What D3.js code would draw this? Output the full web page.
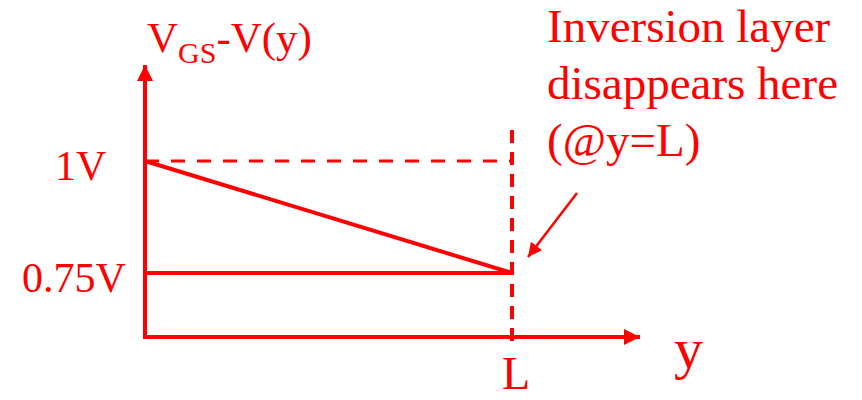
<!DOCTYPE html>
<html>
<head>
<meta charset="utf-8">
<script src="https://cdn.jsdelivr.net/npm/d3@7"></script>
<style>
  html, body { margin: 0; padding: 0; background: #fff; }
  svg text { font-family: "Liberation Serif", "Times New Roman", serif; fill: #ff0000; }
</style>
</head>
<body>
<div id="chart"></div>
<script>
// values
const levels = [1, 0.75];                 // VGS - V(y) at y = 0 and y = L
const levelLabels = ["1V", "0.75V"];
const yPositions = [0, 1];                // y / L
const noteLines = ["Inversion layer", "disappears here", "(@y=L)"];

const width = 862, height = 400;
const red = "#ff0000";

const svg = d3.select("#chart").append("svg")
  .attr("width", width)
  .attr("height", height);

const x = d3.scaleLinear().domain([0, 1]).range([145, 512]);
const y = d3.scaleLinear().domain([0.75, 1]).range([273, 161]);

const axisY = 337;   // where the horizontal axis sits

// arrowheads
const defs = svg.append("defs");
defs.append("marker")
  .attr("id", "arrow")
  .attr("viewBox", "0 0 10 10")
  .attr("refX", 10).attr("refY", 5)
  .attr("markerUnits", "userSpaceOnUse")
  .attr("markerWidth", 17).attr("markerHeight", 16)
  .attr("orient", "auto")
  .append("path")
  .attr("d", "M0,0L10,5L0,10Z")
  .attr("fill", red);
defs.append("marker")
  .attr("id", "arrowSmall")
  .attr("viewBox", "0 0 10 10")
  .attr("refX", 10).attr("refY", 5)
  .attr("markerUnits", "userSpaceOnUse")
  .attr("markerWidth", 18).attr("markerHeight", 14)
  .attr("orient", "auto")
  .append("path")
  .attr("d", "M0,0L10,5L0,10Z")
  .attr("fill", red);

// axes
svg.append("line")
  .attr("x1", x(0)).attr("y1", axisY + 2)
  .attr("x2", x(0)).attr("y2", 65)
  .attr("stroke", red).attr("stroke-width", 4)
  .attr("marker-end", "url(#arrow)");
svg.append("line")
  .attr("x1", x(0) - 2).attr("y1", axisY)
  .attr("x2", 640).attr("y2", axisY)
  .attr("stroke", red).attr("stroke-width", 4)
  .attr("marker-end", "url(#arrow)");

// dashed guides
svg.append("line")
  .attr("x1", x(0)).attr("y1", y(levels[0]))
  .attr("x2", x(1)).attr("y2", y(levels[0]))
  .attr("stroke", red).attr("stroke-width", 3)
  .attr("stroke-dasharray", "14,12");
svg.append("line")
  .attr("x1", x(1)).attr("y1", 130)
  .attr("x2", x(1)).attr("y2", 343)
  .attr("stroke", red).attr("stroke-width", 4)
  .attr("stroke-dasharray", "13,9");

// the potential line
const line = d3.line().x((d, i) => x(yPositions[i])).y(d => y(d));
svg.append("path")
  .datum(levels)
  .attr("d", line)
  .attr("fill", "none")
  .attr("stroke", red).attr("stroke-width", 4);

// 0.75V level
svg.append("line")
  .attr("x1", x(0)).attr("y1", y(levels[1]))
  .attr("x2", x(1)).attr("y2", y(levels[1]))
  .attr("stroke", red).attr("stroke-width", 4);

// tick labels
const labelX = [55, 22];
svg.selectAll(".lvl")
  .data(levels)
  .join("text")
  .attr("class", "lvl")
  .attr("x", (d, i) => labelX[i])
  .attr("y", d => y(d) + 19)
  .attr("font-size", 42)
  .text((d, i) => levelLabels[i]);

// axis titles
const title = svg.append("text")
  .attr("x", 147).attr("y", 52)
  .attr("font-size", 43);
title.append("tspan").text("V");
title.append("tspan").attr("font-size", 30).attr("dy", 11).text("GS");
title.append("tspan").attr("dy", -11).text("-V(y)");

svg.append("text")
  .attr("x", x(1) - 10).attr("y", 389)
  .attr("font-size", 46)
  .text("L");
svg.append("text")
  .attr("x", 674).attr("y", 368)
  .attr("font-size", 58)
  .text("y");

// annotation
svg.append("text")
  .attr("font-size", 47)
  .selectAll("tspan")
  .data(noteLines)
  .join("tspan")
  .attr("x", 547)
  .attr("y", (d, i) => 42 + i * 57)
  .text(d => d);

svg.append("line")
  .attr("x1", 577).attr("y1", 193)
  .attr("x2", 528).attr("y2", 257)
  .attr("stroke", red).attr("stroke-width", 2.5)
  .attr("marker-end", "url(#arrowSmall)");
</script>
</body>
</html>
